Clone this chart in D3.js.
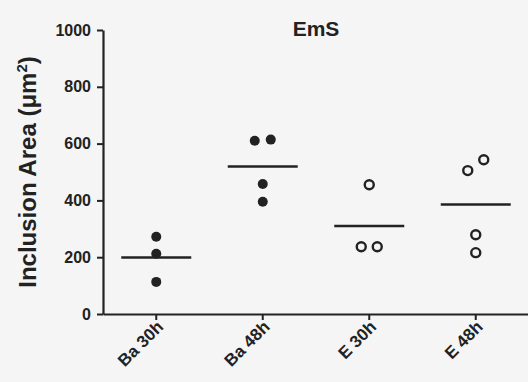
<!doctype html>
<html>
<head>
<meta charset="UTF-8">
<script src="https://d3js.org/d3.v7.min.js"></script>
<style>
  body { margin: 0; background: #f5f5f5; }
  svg { display: block; font-family: "Liberation Sans", Arial, sans-serif; }
</style>
</head>
<body>
<svg></svg>
<script>
const width = 528, height = 382;
const categories = ["Ba 30h", "Ba 48h", "E 30h", "E 48h"];
const ba30 = [272, 212, 113];
const ba48 = [610, 614, 458, 395];
const e30 = [455, 237, 237];
const e48 = [505, 543, 279, 216];
const filled = [true, true, false, false];
const yTicks = [0, 200, 400, 600, 800, 1000];
const groups = [ba30, ba48, e30, e48];

const svg = d3.select("svg").attr("width", width).attr("height", height);
svg.append("rect").attr("width", width).attr("height", height).attr("fill", "#f5f5f5");

const x = d3.scaleBand().domain(categories).range([103, 529]);
const y = d3.scaleLinear().domain([0, 1000]).range([314, 30]);

// y axis
const yAxis = svg.append("g").attr("transform", "translate(103,0)")
  .call(d3.axisLeft(y).tickValues(yTicks).tickFormat(d3.format("d")).tickSize(6).tickSizeOuter(0));
yAxis.select(".domain").attr("stroke", "#222").attr("stroke-width", 2.2);
yAxis.selectAll(".tick line").attr("stroke", "#222").attr("stroke-width", 2);
yAxis.selectAll(".tick text").attr("font-size", 16).attr("font-weight", "bold")
  .attr("fill", "#222").attr("x", -12);

// x axis
const xAxis = svg.append("g").attr("transform", "translate(0,314)")
  .call(d3.axisBottom(x).tickSize(6).tickSizeOuter(0));
xAxis.select(".domain").attr("stroke", "#222").attr("stroke-width", 2.2);
xAxis.selectAll(".tick line").attr("stroke", "#222").attr("stroke-width", 2);
xAxis.selectAll(".tick text").attr("font-size", 17).attr("font-weight", "bold").attr("fill", "#222")
  .attr("text-anchor", "end").attr("dy", null).attr("y", 0)
  .attr("transform", "translate(8,14) rotate(-45)");

// title and y label
svg.append("text").attr("x", 316).attr("y", 36).attr("text-anchor", "middle")
  .attr("font-size", 21).attr("font-weight", "bold").attr("fill", "#222").text("EmS");
svg.append("text").attr("transform", "translate(36,172) rotate(-90)")
  .attr("text-anchor", "middle").attr("font-size", 24).attr("font-weight", "bold").attr("fill", "#222")
  .html('Inclusion Area (μm<tspan dy="-9" font-size="15">2</tspan><tspan dy="9">)</tspan>');

// points: spread pairs that would overlap
groups.forEach((vals, gi) => {
  const cx = x(categories[gi]) + x.bandwidth() / 2;
  const sorted = vals.slice().sort((a, b) => a - b);
  const offs = sorted.map(() => 0);
  for (let i = 0; i < sorted.length - 1; i++) {
    if (Math.abs(y(sorted[i]) - y(sorted[i + 1])) < 12) {
      offs[i] = -8; offs[i + 1] = 8;
      i++;
    }
  }
  const g = svg.append("g");
  g.selectAll("circle").data(sorted).enter().append("circle")
    .attr("cx", (d, i) => cx + offs[i])
    .attr("cy", d => y(d))
    .attr("r", filled[gi] ? 5 : 4.5)
    .attr("fill", filled[gi] ? "#222" : "none")
    .attr("stroke", "#222")
    .attr("stroke-width", filled[gi] ? 0 : 2.4);
  g.append("line")
    .attr("x1", cx - 35).attr("x2", cx + 35)
    .attr("y1", y(d3.mean(vals))).attr("y2", y(d3.mean(vals)))
    .attr("stroke", "#222").attr("stroke-width", 2.4);
});
</script>
</body>
</html>
